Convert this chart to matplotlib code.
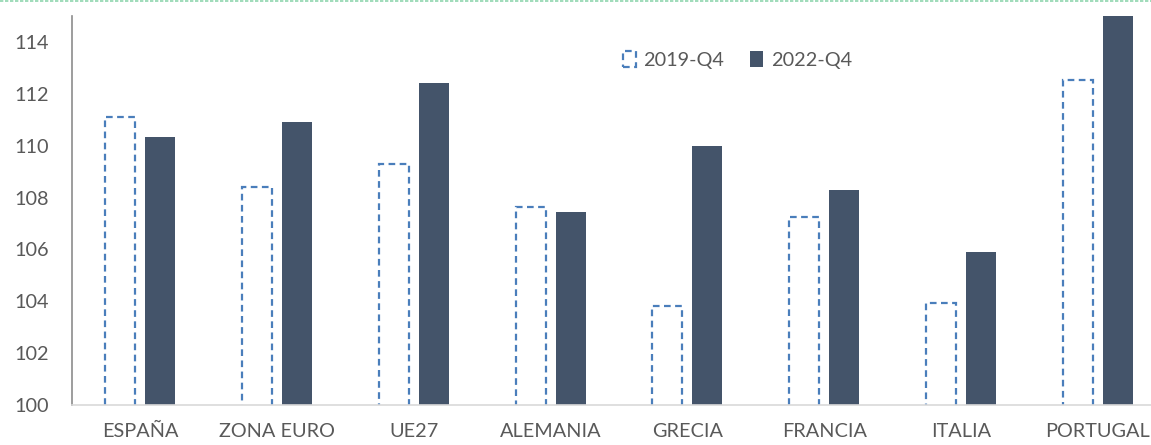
import matplotlib
matplotlib.use("Agg")
import matplotlib.pyplot as plt
import numpy as np
from matplotlib.lines import Line2D

categories = ["ESPAÑA", "ZONA EURO", "UE27", "ALEMANIA", "GRECIA", "FRANCIA", "ITALIA", "PORTUGAL"]
series_names = ["2019-Q4", "2022-Q4"]
values_2019 = [111.1, 108.4, 109.3, 107.65, 103.8, 107.25, 103.95, 112.55]
values_2022 = [110.35, 110.9, 112.4, 107.45, 110.0, 108.3, 105.9, 115.3]
yticks = [100, 102, 104, 106, 108, 110, 112, 114]

plt.rcParams['font.family'] = ['Lato', 'DejaVu Sans']
fs = 14.3

fig = plt.figure(figsize=(11.51, 4.45), dpi=100)
ax = fig.add_axes([72/1151, 1-405/445, 1094/1151, (405-16)/445])

x = np.arange(len(categories))
w = 0.22
off = 0.146
ax.bar(x - off, values_2019, width=w, facecolor="white", edgecolor="#4a7ebb",
       linestyle=(0, (3, 2)), linewidth=1.6, label=series_names[0], zorder=2)
ax.bar(x + off, values_2022, width=w, color="#44546a", label=series_names[1], zorder=2)

ax.set_ylim(100, 115)
ax.set_xlim(-0.5, len(categories) - 0.5)
ax.set_yticks(yticks)
ax.set_yticklabels([str(t) for t in yticks], fontsize=fs, color="#595959")
ax.set_xticks(x)
ax.set_xticklabels(categories, fontsize=fs, color="#595959")
ax.tick_params(axis="both", length=0)
ax.tick_params(axis="x", pad=13)
ax.tick_params(axis="y", pad=16.5)

for s in ["top", "right"]:
    ax.spines[s].set_visible(False)
ax.spines["left"].set_color("#8c8c8c")
ax.spines["left"].set_linewidth(1.2)
ax.spines["bottom"].set_color("#d9d9d9")
ax.spines["bottom"].set_linewidth(1.2)

leg = ax.legend(loc="upper left", bbox_to_anchor=(0.487, 0.955), ncol=2, frameon=False,
                fontsize=fs, handlelength=0.65, handleheight=0.85, handletextpad=0.4,
                columnspacing=1.3)
for t in leg.get_texts():
    t.set_color("#595959")

fig.add_artist(Line2D([0, 1], [0.998, 0.998], transform=fig.transFigure,
                      color="#8fd6ae", linestyle=(0, (2, 1)), linewidth=1.2))

fig.savefig("out.png", dpi=100)
